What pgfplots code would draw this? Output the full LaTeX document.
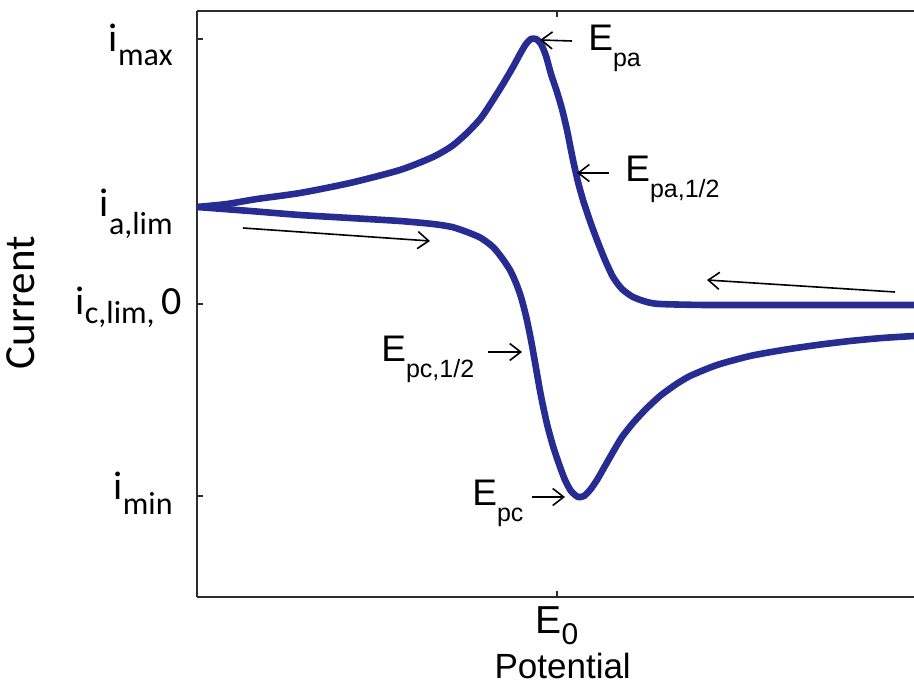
\documentclass[border=0pt]{standalone}
\usepackage{pgfplots}
\pgfplotsset{compat=1.18}
\usepackage{fontspec}
\setmainfont{Liberation Sans}
\newfontfamily\calibri{Carlito}
\usetikzlibrary{arrows.meta}
\definecolor{cvblue}{RGB}{38,44,145}
\definecolor{axgray}{RGB}{45,45,45}
\newcommand{\yl}[4]{\raisebox{-#1pt}{\calibri\fontsize{20}{22}\selectfont i\raisebox{-#2pt}{\fontsize{16}{18}\selectfont #3}#4}}
\newcommand{\Elab}[1]{\fontsize{18.5}{20}\selectfont E\raisebox{-8pt}{\fontsize{12.5}{14}\selectfont #1}}
\begin{document}
\begin{tikzpicture}
\begin{axis}[
  name=ax,
  scale only axis,
  width=358.5pt, height=293pt,
  xmin=-3.60, xmax=3.57,
  ymin=-2.93, ymax=2.93,
  axis x line*=box,
  axis y line*=left,
  axis line style={axgray, line width=0.65pt},
  tick style={axgray, line width=0.65pt},
  major tick length=3pt,
  tick align=inside,
  xtick={0}, xtick pos=both, xticklabel pos=lower,
  xticklabels={{\fontsize{19.5}{21}\selectfont E\raisebox{-5.5pt}{\fontsize{15}{16}\selectfont 0}}},
  xticklabel style={anchor=base, inner sep=0pt, yshift=-18pt},
  ytick={-1.92,0,0.97,2.65},
  yticklabels={
    {\yl{1.5}{7.5}{min}{}\rule{4.5pt}{0pt}},
    {\yl{5.5}{4.5}{c,lim,}{\,0}},
    {\yl{5}{9}{a,lim}{}\rule{4.5pt}{0pt}},
    {\yl{6.5}{7}{max}{}\rule{4.5pt}{0pt}}},
  yticklabel style={anchor=base east, inner sep=0pt, xshift=-7.5pt},
  xlabel={Potential},
  xlabel style={at={(axis description cs:0.51,0)}, anchor=base, yshift=-40.5pt, inner sep=0pt, font=\fontsize{17.5}{19}\selectfont},
  ylabel={Current},
  ylabel style={at={([xshift=-81pt]axis description cs:0,0.502)}, anchor=base, inner sep=0pt, font=\calibri\fontsize{21.5}{23}\selectfont},
  clip=true,
]
% forward (lower) branch
\addplot[cvblue, line width=3.3pt, line join=round, line cap=round, smooth, tension=0.4] coordinates {
(-3.60,0.97) (-3.07,0.93) (-2.57,0.89) (-2.07,0.86) (-1.57,0.83) (-1.24,0.80)
(-1.05,0.77) (-0.90,0.72) (-0.76,0.66) (-0.64,0.57) (-0.55,0.46) (-0.47,0.34)
(-0.41,0.21) (-0.36,0.07) (-0.31,-0.12) (-0.26,-0.36) (-0.21,-0.64) (-0.16,-0.92)
(-0.10,-1.20) (-0.04,-1.42) (0.02,-1.60) (0.08,-1.76) (0.14,-1.87) (0.21,-1.93)
(0.27,-1.92) (0.33,-1.86) (0.40,-1.76) (0.48,-1.62) (0.56,-1.48) (0.65,-1.33)
(0.76,-1.19) (0.89,-1.05) (1.03,-0.92) (1.18,-0.81) (1.33,-0.72) (1.60,-0.61)
(1.93,-0.52) (2.26,-0.46) (2.60,-0.41) (2.93,-0.37) (3.25,-0.34) (3.57,-0.32)
};
% reverse (upper) branch
\addplot[cvblue, line width=3.3pt, line join=round, line cap=round, smooth, tension=0.4] coordinates {
(-3.60,0.97) (-3.30,1.00) (-3.00,1.05) (-2.57,1.11) (-2.07,1.21) (-1.57,1.34)
(-1.24,1.47) (-1.05,1.58) (-0.90,1.71) (-0.76,1.86) (-0.64,2.04) (-0.54,2.20)
(-0.44,2.37) (-0.37,2.50) (-0.31,2.60) (-0.26,2.65) (-0.21,2.65) (-0.16,2.60)
(-0.11,2.48) (-0.06,2.30) (0.00,2.12) (0.05,1.95) (0.10,1.74) (0.16,1.44)
(0.21,1.22) (0.26,1.04) (0.33,0.83) (0.40,0.64) (0.48,0.44) (0.56,0.27)
(0.65,0.15) (0.76,0.07) (0.90,0.02) (1.03,0.00) (1.50,-0.01) (2.50,-0.01) (3.57,-0.01)
};
% annotation arrows
\begin{scope}[black, line width=0.8pt, -{Straight Barb[length=5.5pt,width=8.5pt]}]
\draw (axis cs:-3.14,0.76) -- (axis cs:-1.27,0.63);
\draw (axis cs:3.38,0.12) -- (axis cs:1.50,0.24);
\draw (axis cs:0.15,2.63) -- (axis cs:-0.17,2.64);
\draw (axis cs:0.52,1.31) -- (axis cs:0.20,1.31);
\draw (axis cs:-0.69,-0.48) -- (axis cs:-0.35,-0.48);
\draw (axis cs:-0.25,-1.93) -- (axis cs:0.08,-1.93);
\end{scope}
\node[anchor=base west, inner sep=0pt] at (axis cs:0.31,2.53) {\Elab{pa}};
\node[anchor=base west, inner sep=0pt] at (axis cs:0.68,1.22) {\Elab{pa,1/2}};
\node[anchor=base west, inner sep=0pt] at (axis cs:-1.76,-0.58) {\Elab{pc,1/2}};
\node[anchor=base west, inner sep=0pt] at (axis cs:-0.85,-2.01) {\Elab{pc}};
\end{axis}
\pgfresetboundingbox
\useasboundingbox ([xshift=-98.5pt,yshift=-41.5pt]ax.south west) rectangle ([yshift=5.5pt]ax.north east);
\end{tikzpicture}
\end{document}
